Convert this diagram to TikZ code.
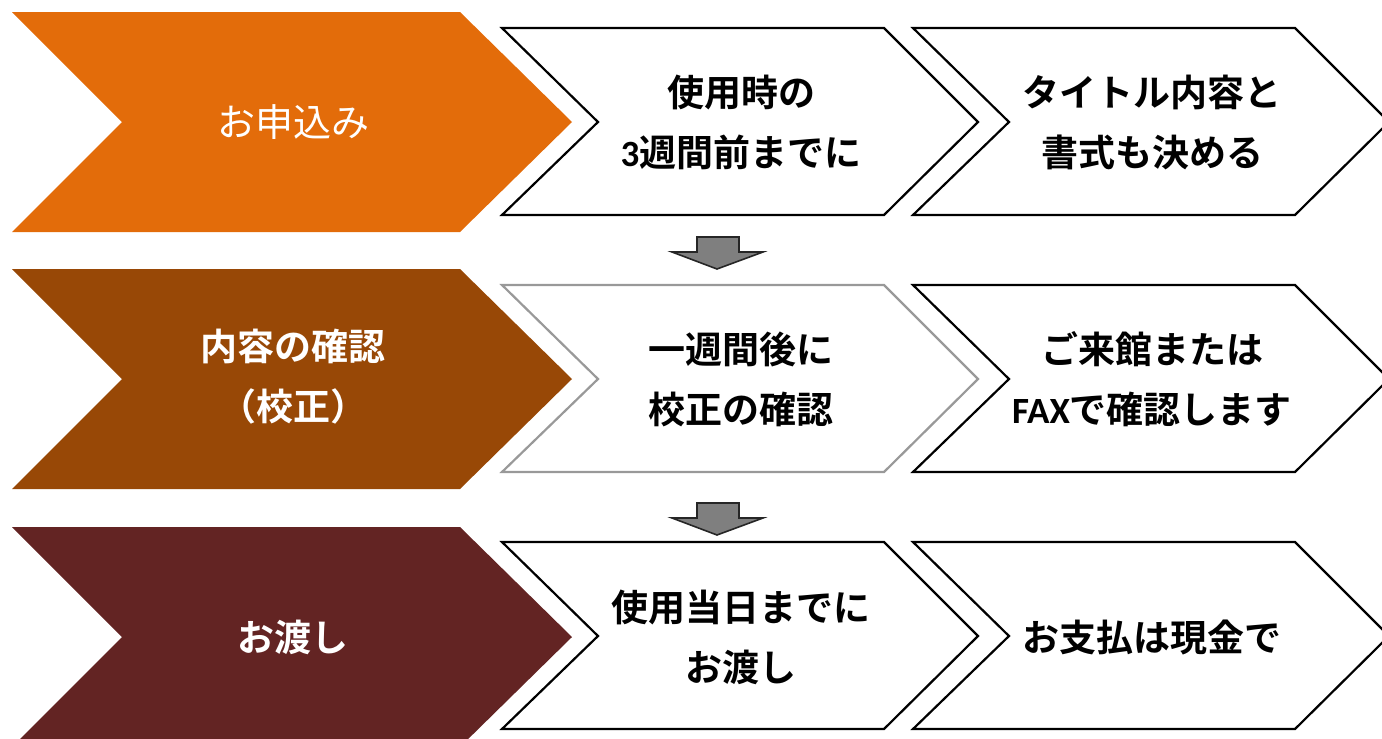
\documentclass[tikz,border=0pt]{standalone}
\usepackage{fontspec}
\newfontfamily\jpr{Noto Sans CJK JP}
\newfontfamily\jpb{Noto Sans CJK JP}[UprightFont=* Bold]
\newfontfamily\lat{Carlito}[UprightFont=* Bold]
\definecolor{cOrange}{HTML}{E36C0A}
\definecolor{cBrown}{HTML}{984806}
\definecolor{cDark}{HTML}{632423}
\definecolor{cArrow}{HTML}{7F7F7F}
\definecolor{cGrayLine}{HTML}{999999}
\tikzset{
  bigtxt/.style={text=white, align=center, font=\fontsize{37}{60}\selectfont},
  smalltxt/.style={text=black, align=center, font=\jpb\fontsize{37}{60}\selectfont},
  wchev/.style={draw=black, fill=white, line width=2.2pt, line join=miter},
  gchev/.style={draw=cGrayLine, fill=white, line width=2.2pt, line join=miter},
  downarrow/.style={draw=black!85, fill=cArrow, line width=1.6pt, line join=miter}
}
\newcommand{\colchev}[2]{% color, top
  \fill[#1] (12,#2) -- (460,#2) -- (572,#2+110) -- (460,#2+220) -- (12,#2+220) -- (122,#2+110) -- cycle;}
\newcommand{\whchev}[3]{% style, x shift, top
  \draw[#1] (502+#2,#3) -- (884+#2,#3) -- (978+#2,#3+94) -- (884+#2,#3+187) -- (502+#2,#3+187) -- (598+#2,#3+94) -- cycle;}
\newcommand{\darrow}[1]{% top
  \draw[downarrow] (697,#1) -- (739,#1) -- (739,#1+15) -- (763,#1+15) -- (717,#1+32) -- (672,#1+15) -- (697,#1+15) -- cycle;}
\begin{document}
\begin{tikzpicture}[x=1pt,y=-1pt]
\useasboundingbox (0,0) rectangle (1382,739);
\clip (0,0) rectangle (1382,739);
% row 1
\colchev{cOrange}{12}
\whchev{wchev}{0}{28}
\whchev{wchev}{411}{28}
% row 2
\colchev{cBrown}{269}
\whchev{gchev}{0}{285}
\whchev{wchev}{411}{285}
% row 3
\colchev{cDark}{527}
\whchev{wchev}{0}{542}
\whchev{wchev}{411}{542}
% arrows
\darrow{237}
\darrow{503}
% texts
\node[bigtxt, font=\jpr\fontsize{38}{60}\selectfont] (t1) at (293,122) {お申込み};
\node[bigtxt, font=\jpb\fontsize{37}{60}\selectfont] (t2) at (293,377) {内容の確認\\（校正）};
\node[bigtxt, font=\jpb\fontsize{37}{60}\selectfont] (t3) at (293,637) {お渡し};
\node[smalltxt] (a1) at (741,122) {使用時の\\{\lat 3}週間前までに};
\node[smalltxt] (b1) at (1152,122) {タイトル内容と\\書式も決める};
\node[smalltxt] (a2) at (741,379) {一週間後に\\校正の確認};
\node[smalltxt] (b2) at (1152,379) {ご来館または\\{\lat FAX}で確認します};
\node[smalltxt] (a3) at (741,637) {使用当日までに\\お渡し};
\node[smalltxt] (b3) at (1152,637) {お支払は現金で};
\end{tikzpicture}
\end{document}
